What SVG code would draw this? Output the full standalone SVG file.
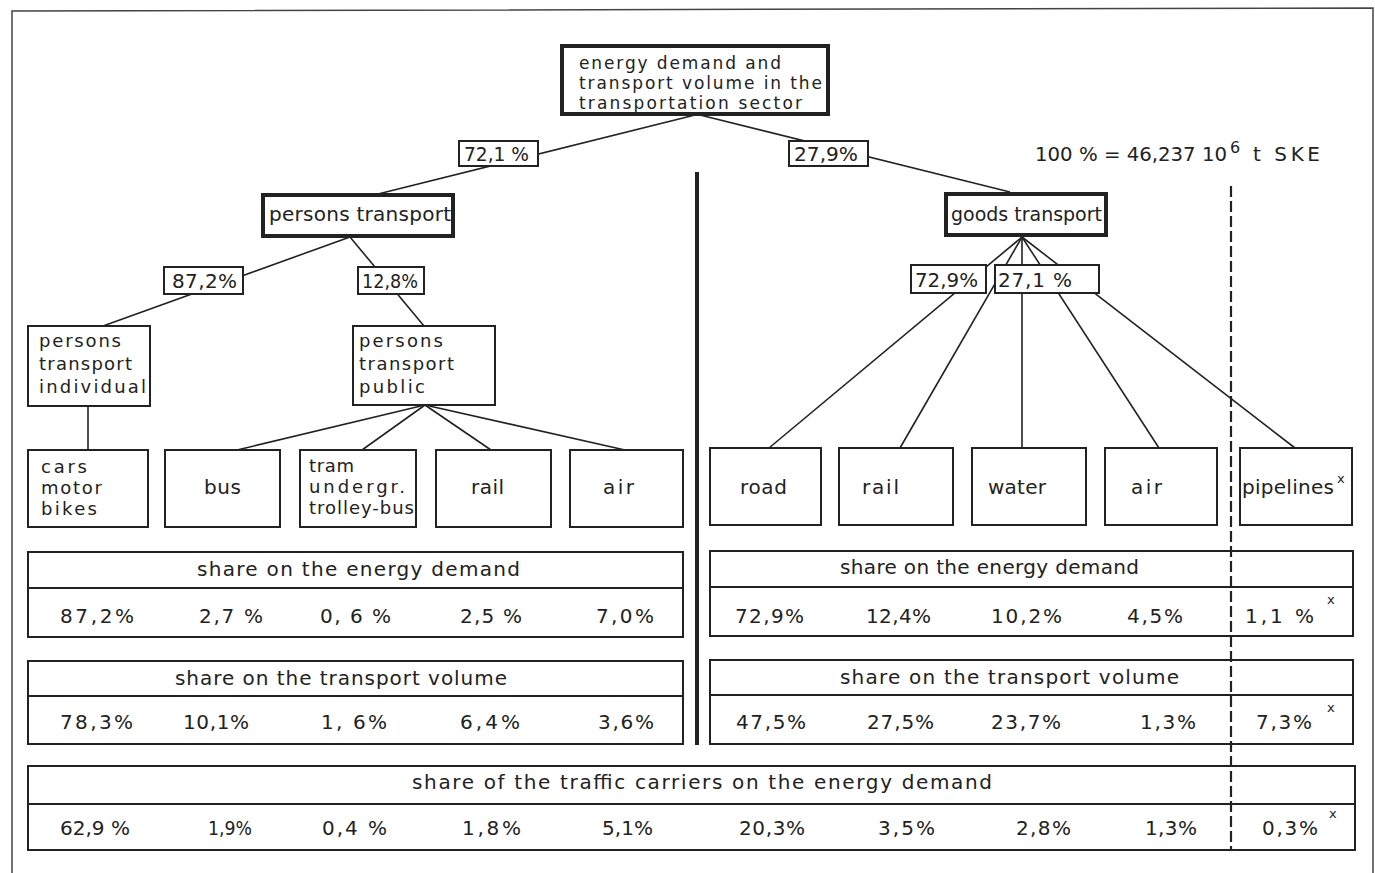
<svg xmlns="http://www.w3.org/2000/svg" width="1375" height="873" viewBox="0 0 1375 873">
<style>
text{font-family:"DejaVu Sans","Liberation Sans",sans-serif;font-size:20px;fill:#222}
.ml{font-size:18px}
.ml17{font-size:17px}
.sup{font-size:13px}
.sup6{font-size:16px}
.box{fill:#fff;stroke:#222;stroke-width:2}
.thick{fill:#fff;stroke:#222;stroke-width:4}
.con{stroke:#222;stroke-width:1.6;fill:none}
.tbl{fill:#fff;stroke:#222;stroke-width:2}
</style>
<rect width="1375" height="873" fill="#fff"/>
<path d="M12,873 L12,11 L1373,8 L1373,873" fill="none" stroke="#444" stroke-width="1.5"/>

<g id="connectors">
<line class="con" x1="695" y1="115" x2="378" y2="194"/>
<line class="con" x1="700" y1="115" x2="1010" y2="192"/>
<line class="con" x1="350" y1="237" x2="103" y2="326"/>
<line class="con" x1="350" y1="237" x2="424" y2="326"/>
<line class="con" x1="88" y1="406" x2="88" y2="450"/>
<line class="con" x1="425" y1="405" x2="237" y2="450"/>
<line class="con" x1="425" y1="405" x2="362" y2="450"/>
<line class="con" x1="425" y1="405" x2="491" y2="450"/>
<line class="con" x1="425" y1="405" x2="625" y2="450"/>
<line class="con" x1="1022" y1="237" x2="769" y2="448"/>
<line class="con" x1="1022" y1="237" x2="900" y2="448"/>
<line class="con" x1="1022" y1="237" x2="1022" y2="448"/>
<line class="con" x1="1022" y1="237" x2="1159" y2="448"/>
<line class="con" x1="1022" y1="237" x2="1295" y2="448"/>
</g>

<g id="root">
<rect class="thick" x="562" y="46" width="266" height="68"/>
<text class="ml17" x="579" y="69" textLength="202">energy demand and</text>
<text class="ml17" x="579" y="89" textLength="243">transport volume in the</text>
<text class="ml17" x="579" y="109" textLength="223">transportation sector</text>
</g>

<g id="label-72-1">
<rect class="box" x="459" y="141" width="79" height="25"/>
<text x="464" y="161" textLength="65" lengthAdjust="spacingAndGlyphs">72,1 %</text>
</g>
<g id="label-27-9">
<rect class="box" x="789" y="141" width="79" height="25"/>
<text x="794" y="161" textLength="64" lengthAdjust="spacingAndGlyphs">27,9%</text>
</g>

<g id="total-note">
<text x="1035" y="161" textLength="192" lengthAdjust="spacingAndGlyphs">100 % = 46,237 10</text>
<text class="sup6" x="1230" y="153">6</text>
<text x="1253" y="161" textLength="67">t SKE</text>
</g>

<g id="persons-transport">
<rect class="thick" x="263" y="195" width="190" height="41"/>
<text x="269" y="221" textLength="182">persons transport</text>
</g>
<g id="goods-transport">
<rect class="thick" x="946" y="194" width="160" height="41"/>
<text x="951" y="221" textLength="151" lengthAdjust="spacingAndGlyphs">goods transport</text>
</g>

<g id="label-87-2">
<rect class="box" x="164" y="267" width="79" height="27"/>
<text x="172" y="288" textLength="65">87,2%</text>
</g>
<g id="label-12-8">
<rect class="box" x="358" y="267" width="66" height="27"/>
<text x="362" y="288" textLength="56" lengthAdjust="spacingAndGlyphs">12,8%</text>
</g>
<g id="label-72-9">
<rect class="box" x="911" y="265" width="75" height="28"/>
<text x="915" y="287" textLength="63" lengthAdjust="spacingAndGlyphs">72,9%</text>
</g>
<g id="label-27-1">
<rect class="box" x="995" y="265" width="104" height="28"/>
<text x="998" y="287" textLength="74">27,1 %</text>
</g>

<g id="persons-individual">
<rect class="box" x="28" y="326" width="122" height="80"/>
<text class="ml" x="39" y="347" textLength="82">persons</text>
<text class="ml" x="39" y="370" textLength="93">transport</text>
<text class="ml" x="39" y="393" textLength="107">individual</text>
</g>
<g id="persons-public">
<rect class="box" x="353" y="326" width="142" height="79"/>
<text class="ml" x="359" y="347" textLength="84">persons</text>
<text class="ml" x="359" y="370" textLength="95">transport</text>
<text class="ml" x="359" y="393" textLength="66">public</text>
</g>

<g id="cars">
<rect class="box" x="28" y="450" width="120" height="77"/>
<text class="ml" x="41" y="473" textLength="46">cars</text>
<text class="ml" x="41" y="494" textLength="61">motor</text>
<text class="ml" x="41" y="515" textLength="56">bikes</text>
</g>
<g id="bus">
<rect class="box" x="165" y="450" width="115" height="77"/>
<text x="204" y="494" textLength="37">bus</text>
</g>
<g id="tram">
<rect class="box" x="300" y="450" width="116" height="77"/>
<text class="ml" x="309" y="472" textLength="45">tram</text>
<text class="ml" x="309" y="493" textLength="96">undergr.</text>
<text class="ml" x="309" y="514" textLength="105">trolley-bus</text>
</g>
<g id="rail-persons">
<rect class="box" x="436" y="450" width="115" height="77"/>
<text x="471" y="494" textLength="33">rail</text>
</g>
<g id="air-persons">
<rect class="box" x="570" y="450" width="113" height="77"/>
<text x="603" y="494" textLength="31">air</text>
</g>

<g id="road">
<rect class="box" x="710" y="448" width="111" height="77"/>
<text x="740" y="494" textLength="47">road</text>
</g>
<g id="rail-goods">
<rect class="box" x="839" y="448" width="114" height="77"/>
<text x="862" y="494" textLength="37">rail</text>
</g>
<g id="water">
<rect class="box" x="972" y="448" width="114" height="77"/>
<text x="988" y="494" textLength="58">water</text>
</g>
<g id="air-goods">
<rect class="box" x="1105" y="448" width="112" height="77"/>
<text x="1131" y="494" textLength="31">air</text>
</g>
<g id="pipelines">
<rect class="box" x="1240" y="448" width="112" height="77"/>
<text x="1242" y="494" textLength="92">pipelines</text>
<text class="sup" x="1337" y="483">x</text>
</g>

<g id="table-persons-energy">
<rect class="tbl" x="28" y="552" width="655" height="85"/>
<line class="tbl" x1="28" y1="588" x2="683" y2="588"/>
<text x="197" y="576" textLength="323">share on the energy demand</text>
<text x="60" y="623" textLength="74">87,2%</text>
<text x="199" y="623" textLength="64">2,7 %</text>
<text x="320" y="623" textLength="71">0, 6 %</text>
<text x="460" y="623" textLength="62">2,5 %</text>
<text x="596" y="623" textLength="58">7,0%</text>
</g>
<g id="table-persons-volume">
<rect class="tbl" x="28" y="661" width="655" height="83"/>
<line class="tbl" x1="28" y1="696" x2="683" y2="696"/>
<text x="175" y="685" textLength="332">share on the transport volume</text>
<text x="60" y="729" textLength="73">78,3%</text>
<text x="183" y="729" textLength="66">10,1%</text>
<text x="321" y="729" textLength="66">1, 6%</text>
<text x="460" y="729" textLength="60">6,4%</text>
<text x="598" y="729" textLength="56">3,6%</text>
</g>
<g id="table-goods-energy">
<rect class="tbl" x="710" y="551" width="643" height="85"/>
<line class="tbl" x1="710" y1="587" x2="1353" y2="587"/>
<text x="840" y="574" textLength="299">share on the energy demand</text>
<text x="735" y="623" textLength="69">72,9%</text>
<text x="866" y="623" textLength="65">12,4%</text>
<text x="991" y="623" textLength="71">10,2%</text>
<text x="1127" y="623" textLength="56">4,5%</text>
<text x="1245" y="623" textLength="69">1,1 %</text>
<text class="sup" x="1327" y="604">x</text>
</g>
<g id="table-goods-volume">
<rect class="tbl" x="710" y="660" width="643" height="84"/>
<line class="tbl" x1="710" y1="695" x2="1353" y2="695"/>
<text x="840" y="684" textLength="339">share on the transport volume</text>
<text x="736" y="729" textLength="70">47,5%</text>
<text x="867" y="729" textLength="67">27,5%</text>
<text x="991" y="729" textLength="70">23,7%</text>
<text x="1140" y="729" textLength="56">1,3%</text>
<text x="1256" y="729" textLength="56">7,3%</text>
<text class="sup" x="1327" y="712">x</text>
</g>
<g id="table-carriers">
<rect class="tbl" x="28" y="766" width="1327" height="84"/>
<line class="tbl" x1="28" y1="804" x2="1355" y2="804"/>
<text x="412" y="789" textLength="580">share of the traffic carriers on the energy demand</text>
<text x="60" y="835" textLength="70">62,9 %</text>
<text x="208" y="835" textLength="44" lengthAdjust="spacingAndGlyphs">1,9%</text>
<text x="322" y="835" textLength="65">0,4 %</text>
<text x="462" y="835" textLength="59">1,8%</text>
<text x="602" y="835" textLength="51">5,1%</text>
<text x="739" y="835" textLength="66">20,3%</text>
<text x="878" y="835" textLength="57">3,5%</text>
<text x="1016" y="835" textLength="55">2,8%</text>
<text x="1145" y="835" textLength="52">1,3%</text>
<text x="1262" y="835" textLength="56">0,3%</text>
<text class="sup" x="1329" y="818">x</text>
</g>

<g id="dividers">
<line x1="697" y1="172" x2="697" y2="745" stroke="#222" stroke-width="4"/>
<line x1="1231" y1="186" x2="1231" y2="850" stroke="#222" stroke-width="2.2" stroke-dasharray="11,4"/>
</g>
</svg>
